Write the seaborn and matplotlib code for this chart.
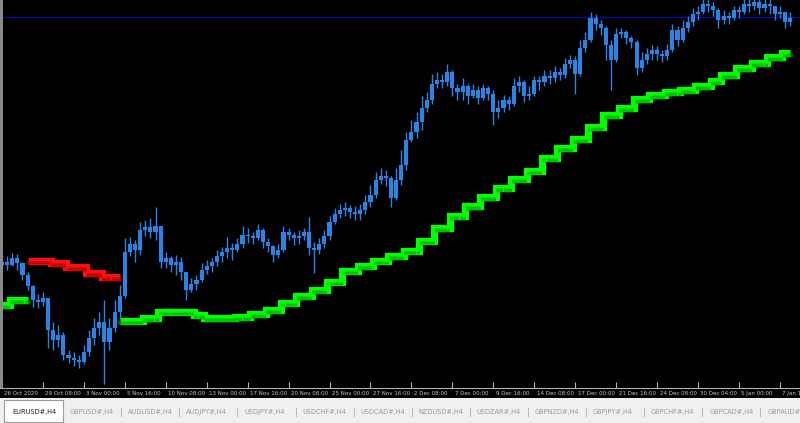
import matplotlib
matplotlib.use("Agg")
import matplotlib.pyplot as plt
import matplotlib.transforms as mtransforms
from matplotlib.patches import Rectangle
import numpy as np
import pandas as pd
import seaborn as sns

# EURUSD H4 candles
first_open = 1.1820
closes = [1.1826, 1.1820, 1.1834, 1.1824, 1.1800, 1.1778, 1.1750, 1.1746, 1.1754, 1.1690,
          1.1670, 1.1680, 1.1640, 1.1634, 1.1630, 1.1626, 1.1646, 1.1674, 1.1694, 1.1706,
          1.1666, 1.1694, 1.1726, 1.1758, 1.1846, 1.1862, 1.1850, 1.1890, 1.1896, 1.1886,
          1.1898, 1.1826, 1.1834, 1.1820, 1.1826, 1.1806, 1.1770, 1.1782, 1.1790, 1.1810,
          1.1818, 1.1826, 1.1838, 1.1846, 1.1854, 1.1850, 1.1862, 1.1880, 1.1878, 1.1874,
          1.1890, 1.1866, 1.1858, 1.1840, 1.1850, 1.1886, 1.1880, 1.1874, 1.1878, 1.1886,
          1.1854, 1.1850, 1.1862, 1.1878, 1.1906, 1.1922, 1.1930, 1.1934, 1.1926, 1.1922,
          1.1930, 1.1946, 1.1960, 1.1990, 1.1998, 1.1994, 1.1954, 1.1990, 1.2020, 1.2070,
          1.2086, 1.2106, 1.2134, 1.2150, 1.2182, 1.2190, 1.2186, 1.2206, 1.2174, 1.2166,
          1.2178, 1.2158, 1.2170, 1.2154, 1.2174, 1.2162, 1.2126, 1.2134, 1.2150, 1.2142,
          1.2178, 1.2186, 1.2158, 1.2162, 1.2190, 1.2186, 1.2198, 1.2194, 1.2206, 1.2200,
          1.2222, 1.2230, 1.2202, 1.2254, 1.2270, 1.2314, 1.2302, 1.2294, 1.2260, 1.2230,
          1.2282, 1.2286, 1.2274, 1.2266, 1.2214, 1.2230, 1.2242, 1.2250, 1.2242, 1.2238,
          1.2250, 1.2290, 1.2270, 1.2294, 1.2306, 1.2322, 1.2326, 1.2342, 1.2338, 1.2330,
          1.2310, 1.2318, 1.2314, 1.2330, 1.2326, 1.2342, 1.2338, 1.2346, 1.2334, 1.2342,
          1.2338, 1.2322, 1.2326, 1.2306, 1.2314]
highs = [1.1840, 1.1838, 1.1844, 1.1842, 1.1826, 1.1806, 1.1780, 1.1762, 1.1766, 1.1754,
         1.1706, 1.1700, 1.1686, 1.1650, 1.1646, 1.1640, 1.1660, 1.1690, 1.1714, 1.1726,
         1.1750, 1.1714, 1.1750, 1.1780, 1.1874, 1.1876, 1.1870, 1.1906, 1.1910, 1.1914,
         1.1936, 1.1898, 1.1846, 1.1838, 1.1840, 1.1836, 1.1800, 1.1794, 1.1800, 1.1824,
         1.1830, 1.1834, 1.1850, 1.1856, 1.1876, 1.1864, 1.1874, 1.1898, 1.1894, 1.1886,
         1.1902, 1.1894, 1.1874, 1.1860, 1.1862, 1.1898, 1.1894, 1.1886, 1.1890, 1.1894,
         1.1916, 1.1866, 1.1874, 1.1890, 1.1918, 1.1934, 1.1942, 1.1946, 1.1940, 1.1938,
         1.1942, 1.1960, 1.1980, 1.2006, 1.2014, 1.2010, 1.1998, 1.2014, 1.2050, 1.2086,
         1.2110, 1.2126, 1.2158, 1.2166, 1.2202, 1.2206, 1.2202, 1.2222, 1.2210, 1.2182,
         1.2194, 1.2182, 1.2182, 1.2178, 1.2182, 1.2178, 1.2170, 1.2150, 1.2160, 1.2158,
         1.2194, 1.2198, 1.2190, 1.2178, 1.2198, 1.2198, 1.2210, 1.2210, 1.2218, 1.2214,
         1.2234, 1.2240, 1.2238, 1.2270, 1.2286, 1.2326, 1.2322, 1.2310, 1.2298, 1.2270,
         1.2294, 1.2294, 1.2290, 1.2278, 1.2270, 1.2246, 1.2254, 1.2260, 1.2258, 1.2250,
         1.2262, 1.2302, 1.2298, 1.2310, 1.2318, 1.2334, 1.2338, 1.2352, 1.2352, 1.2346,
         1.2334, 1.2330, 1.2326, 1.2338, 1.2338, 1.2352, 1.2352, 1.2352, 1.2352, 1.2352,
         1.2352, 1.2338, 1.2338, 1.2326, 1.2326]
lows = [1.1814, 1.1810, 1.1818, 1.1810, 1.1790, 1.1770, 1.1736, 1.1734, 1.1738, 1.1654,
        1.1650, 1.1656, 1.1630, 1.1624, 1.1618, 1.1614, 1.1622, 1.1638, 1.1660, 1.1680,
        1.1582, 1.1650, 1.1686, 1.1714, 1.1754, 1.1838, 1.1826, 1.1840, 1.1878, 1.1874,
        1.1870, 1.1814, 1.1814, 1.1806, 1.1800, 1.1790, 1.1750, 1.1766, 1.1770, 1.1786,
        1.1802, 1.1806, 1.1818, 1.1826, 1.1834, 1.1830, 1.1846, 1.1854, 1.1864, 1.1862,
        1.1870, 1.1854, 1.1846, 1.1826, 1.1834, 1.1846, 1.1870, 1.1860, 1.1862, 1.1870,
        1.1840, 1.1804, 1.1842, 1.1854, 1.1870, 1.1902, 1.1914, 1.1918, 1.1914, 1.1910,
        1.1910, 1.1922, 1.1936, 1.1954, 1.1982, 1.1978, 1.1936, 1.1950, 1.1980, 1.2010,
        1.2066, 1.2074, 1.2090, 1.2126, 1.2142, 1.2174, 1.2174, 1.2178, 1.2158, 1.2150,
        1.2150, 1.2142, 1.2154, 1.2142, 1.2150, 1.2150, 1.2100, 1.2114, 1.2126, 1.2130,
        1.2138, 1.2166, 1.2146, 1.2150, 1.2158, 1.2170, 1.2178, 1.2182, 1.2186, 1.2190,
        1.2194, 1.2214, 1.2162, 1.2198, 1.2246, 1.2266, 1.2290, 1.2280, 1.2230, 1.2170,
        1.2226, 1.2274, 1.2262, 1.2254, 1.2200, 1.2206, 1.2222, 1.2230, 1.2230, 1.2226,
        1.2230, 1.2246, 1.2258, 1.2266, 1.2286, 1.2298, 1.2310, 1.2322, 1.2326, 1.2318,
        1.2294, 1.2302, 1.2302, 1.2310, 1.2314, 1.2322, 1.2326, 1.2330, 1.2322, 1.2326,
        1.2322, 1.2310, 1.2314, 1.2294, 1.2298]

# trailing stop indicator (red = resistance, green = support)
resistance_start = 5
resistance = [1.1828, 1.1828, 1.1828, 1.1828, 1.1828, 1.1824, 1.1824, 1.1824,
              1.1816, 1.1816, 1.1816, 1.1816, 1.1804, 1.1804, 1.1804,
              1.1796, 1.1796, 1.1796, 1.1796]
support_a_start = 0
support_a = [1.1740, 1.1740, 1.1750, 1.1750, 1.1750, 1.1750]
support_b_start = 23
support_b = [1.1708, 1.1708, 1.1708, 1.1708, 1.1708, 1.1714, 1.1714, 1.1714,
             1.1726, 1.1726, 1.1726, 1.1726, 1.1726, 1.1726, 1.1726, 1.1720, 1.1720,
             1.1714, 1.1714, 1.1714, 1.1714, 1.1714, 1.1714, 1.1716, 1.1716, 1.1716,
             1.1722, 1.1722, 1.1722, 1.1730, 1.1730, 1.1730, 1.1744, 1.1744, 1.1744,
             1.1758, 1.1758, 1.1758, 1.1770, 1.1770, 1.1770, 1.1786, 1.1786, 1.1786,
             1.1808, 1.1808, 1.1808, 1.1818, 1.1818, 1.1818, 1.1828, 1.1828, 1.1828,
             1.1838, 1.1838, 1.1838, 1.1848, 1.1848, 1.1848, 1.1868, 1.1868, 1.1868,
             1.1894, 1.1894, 1.1894, 1.1918, 1.1918, 1.1918, 1.1938, 1.1938, 1.1938,
             1.1956, 1.1956, 1.1956, 1.1974, 1.1974, 1.1974, 1.1992, 1.1992, 1.1992,
             1.2008, 1.2008, 1.2008, 1.2034, 1.2034, 1.2034, 1.2054, 1.2054, 1.2054,
             1.2072, 1.2072, 1.2072, 1.2096, 1.2096, 1.2096, 1.2120, 1.2120, 1.2120,
             1.2134, 1.2134, 1.2134, 1.2152, 1.2152, 1.2152, 1.2160, 1.2160, 1.2160,
             1.2166, 1.2166, 1.2166, 1.2170, 1.2170, 1.2170, 1.2178, 1.2178, 1.2178,
             1.2188, 1.2188, 1.2200, 1.2200, 1.2200, 1.2214, 1.2214, 1.2214,
             1.2224, 1.2224, 1.2224, 1.2236, 1.2236, 1.2236, 1.2244, 1.2244]

level_line = 1.2316

time_labels = ["26 Oct 2020", "29 Oct 08:00", "3 Nov 00:00", "5 Nov 16:00", "10 Nov 08:00",
               "13 Nov 00:00", "17 Nov 16:00", "20 Nov 08:00", "25 Nov 00:00", "27 Nov 16:00",
               "2 Dec 08:00", "7 Dec 00:00", "9 Dec 16:00", "14 Dec 08:00", "17 Dec 00:00",
               "21 Dec 16:00", "24 Dec 08:00", "30 Dec 04:00", "5 Jan 00:00", "7 Jan 16:00"]
bars_per_label = 8

tabs = ["EURUSD#,H4", "GBPUSD#,H4", "AUDUSD#,H4", "AUDJPY#,H4", "USDJPY#,H4",
        "USDCHF#,H4", "USDCAD#,H4", "NZDUSD#,H4", "USDZAR#,H4", "GBPNZD#,H4",
        "GBPJPY#,H4", "GBPCHF#,H4", "GBPCAD#,H4", "GBPAUD#,H4"]

# ---- frames
n = len(closes)
df = pd.DataFrame({"bar": np.arange(n), "close": closes, "high": highs, "low": lows})
df["open"] = [first_open] + closes[:-1]
df["high"] = df[["high", "open", "close"]].max(axis=1)
df["low"] = df[["low", "open", "close"]].min(axis=1)
df["body_lo"] = df[["open", "close"]].min(axis=1)
df["body_h"] = (df["close"] - df["open"]).abs().clip(lower=0.0003)

parts = []
for name, start, vals in [("res", resistance_start, resistance),
                          ("sup_a", support_a_start, support_a),
                          ("sup_b", support_b_start, support_b)]:
    parts.append(pd.DataFrame({"bar": np.arange(start, start + len(vals)),
                               "level": vals, "seg": name}))
ind = pd.concat(parts, ignore_index=True)

# ---- figure
W, H, dpi = 800, 423, 100
sns.set_style("dark")
plt.rcParams["font.family"] = ["DejaVu Sans"]
fig = plt.figure(figsize=(W / dpi, H / dpi), dpi=dpi, facecolor="black")

chart_bottom = 388
ax = fig.add_axes([0, (H - chart_bottom) / H, 1, chart_bottom / H])
ax.set_facecolor("black")

px_per_bar = 40.94 / bars_per_label
ax.set_xlim(-2 / px_per_bar, (W - 2) / px_per_bar)
ax.set_ylim(1.2350 - 0.0002 * chart_bottom, 1.2350)

blue = "#2a84e6"
ax.axhline(level_line, color="#0a0a9c", lw=1.0, zorder=1)
ax.vlines(df["bar"], df["low"], df["high"], color=blue, lw=1.0, zorder=2)
ax.bar(df["bar"], df["body_h"], bottom=df["body_lo"], width=0.8, color=blue,
       edgecolor="none", zorder=3)

sns.lineplot(data=ind, x="bar", y="level", hue="seg", units="seg", estimator=None,
             palette={"res": "#ff1010", "sup_a": "#00ff00", "sup_b": "#00ff00"},
             drawstyle="steps-mid", linewidth=5.2, legend=False, ax=ax, zorder=4,
             solid_capstyle="butt", solid_joinstyle="miter")

# comb texture in the lower part of the indicator band
stripe_x, stripe_lo, stripe_hi, stripe_c = [], [], [], []
for _, r in ind.iterrows():
    for dx in (-0.4, -0.2, 0.0, 0.2, 0.4):
        stripe_x.append(r["bar"] + dx)
        stripe_lo.append(r["level"] - 0.0007)
        stripe_hi.append(r["level"] + 0.0001)
        stripe_c.append("#a00000" if r["seg"] == "res" else "#00a000")
ax.vlines(stripe_x, stripe_lo, stripe_hi, colors=stripe_c, lw=0.45, zorder=5)

ax.set_xlabel("")
ax.set_ylabel("")
ax.set_yticks([])
ax.set_xticks(np.arange(len(time_labels)) * bars_per_label)
ax.set_xticklabels(time_labels, ha="left")
ax.tick_params(axis="x", direction="in", length=4, width=0.8, color="#b0b0b0",
               labelsize=4.0, labelcolor="#c8c8c8", pad=2.5, bottom=True)
offset = mtransforms.ScaledTranslation(2.5 / dpi, 0, fig.dpi_scale_trans)
for lab in ax.get_xticklabels():
    lab.set_transform(lab.get_transform() + offset)
ax.grid(False)
for side in ["top", "left", "right"]:
    ax.spines[side].set_visible(False)
ax.spines["bottom"].set_color("#b0b0b0")
ax.spines["bottom"].set_linewidth(0.8)

# left window border
fig.patches.append(Rectangle((0, (H - chart_bottom) / H), 3 / W, chart_bottom / H,
                             transform=fig.transFigure, facecolor="#8a8a8a",
                             edgecolor="none", zorder=5))

# ---- symbol tabs
tab_top = 398
tax = fig.add_axes([0, 0, 1, (H - tab_top) / H])
tax.set_xlim(0, W)
tax.set_ylim(H, tab_top)
tax.axis("off")
tax.add_patch(Rectangle((0, tab_top), W, H - tab_top, facecolor="#f0f0f0",
                        edgecolor="none", zorder=0))
tax.add_patch(Rectangle((4, 400), 59, 22, facecolor="white", edgecolor="#9a9a9a",
                        lw=0.8, zorder=1))
tab_step = 58.1
for k, name in enumerate(tabs):
    x0 = 12 + tab_step * k
    tax.text(x0, 412, name, fontsize=4.8, va="center", ha="left",
             color="#202020" if k == 0 else "#9a9a9a", zorder=2)
    if k > 0:
        tax.text(x0 - 6.5, 412, "|", fontsize=6, va="center", ha="center",
                 color="#a8a8a8", zorder=2)

fig.savefig("out.png", dpi=dpi, facecolor="black")
